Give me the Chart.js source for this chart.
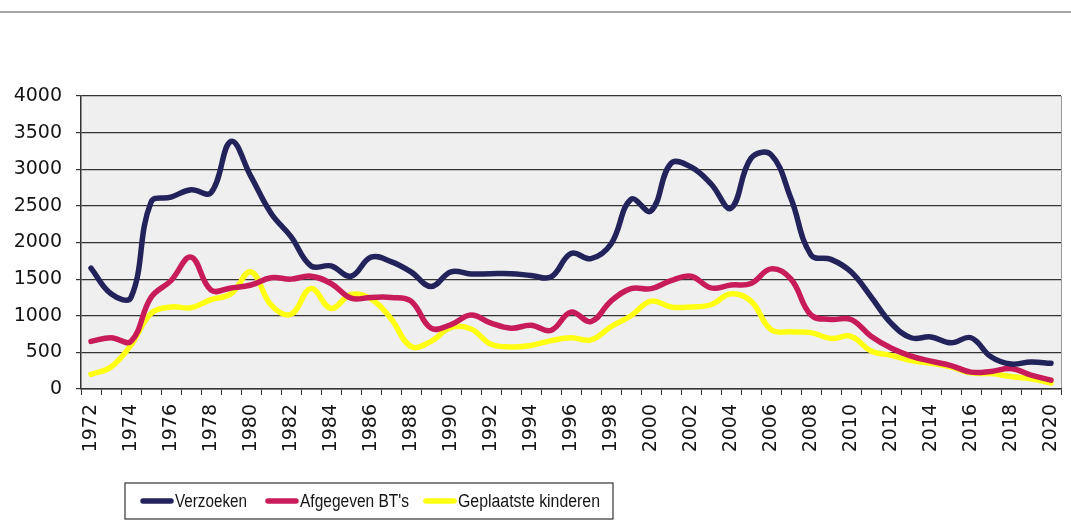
<!DOCTYPE html>
<html>
<head>
<meta charset="utf-8">
<script src="https://cdn.jsdelivr.net/npm/chart.js@4"></script>
<style>
html,body{margin:0;padding:0;background:#fff;}
#wrap{position:relative;width:1071px;height:526px;}
</style>
</head>
<body>
<div id="wrap"><canvas id="c" width="1071" height="526"></canvas></div>
<script>
const years = [];
for (let y = 1972; y <= 2020; y++) years.push(String(y));

const verzoeken = [1650,1300,1250,2550,2620,2720,2680,3380,2900,2400,2080,1680,1680,1540,
  1800,1740,1600,1400,1600,1570,1575,1575,1550,1530,1850,1780,1980,2590,2430,3080,3030,
  2800,2470,3150,3200,2600,1830,1770,1600,1260,900,700,710,630,700,440,340,370,350];
const afgegeven = [650,700,650,1250,1480,1800,1350,1380,1420,1520,1500,1540,1440,1240,
  1250,1250,1200,830,880,1010,900,830,870,800,1050,920,1200,1370,1370,1480,1540,
  1380,1420,1440,1640,1500,1010,950,950,720,560,450,380,320,230,240,280,190,120];
const geplaatst = [200,300,600,1030,1120,1110,1220,1300,1600,1150,1020,1370,1100,1290,
  1230,960,580,650,840,820,610,575,595,660,700,670,850,1000,1200,1120,1120,
  1150,1300,1200,810,780,770,690,720,520,460,390,350,300,220,210,170,140,80];
const seriesNames = ['Verzoeken', "Afgegeven BT's", 'Geplaatste kinderen'];
const yTicks = [0,500,1000,1500,2000,2500,3000,3500,4000];

const colors = ['#23235c', '#c81b5a', '#ffff14'];
const FONT = "'DejaVu Sans', Verdana, sans-serif";

const framePlugin = {
  id: 'frame',
  beforeDraw(chart) {
    const {ctx, chartArea: a} = chart;
    ctx.save();
    ctx.fillStyle = '#efefef';
    ctx.fillRect(a.left, a.top, a.right - a.left, a.bottom - a.top);
    ctx.strokeStyle = '#8a8a8a';
    ctx.lineWidth = 1.5;
    ctx.beginPath();
    ctx.moveTo(0, 12); ctx.lineTo(1071, 12);
    ctx.stroke();
    ctx.strokeStyle = '#9a9a9a';
    ctx.lineWidth = 1;
    ctx.beginPath();
    ctx.moveTo(a.right + 0.5, a.top); ctx.lineTo(a.right + 0.5, a.bottom);
    ctx.stroke();
    ctx.restore();
  },
  afterDraw(chart) {
    const ctx = chart.ctx;
    ctx.save();
    const bx = 125, by = 483, bw = 488, bh = 36;
    ctx.strokeStyle = '#333';
    ctx.lineWidth = 1.2;
    ctx.strokeRect(bx, by, bw, bh);
    ctx.font = "18px 'Liberation Sans Narrow', 'Liberation Sans', Arial, sans-serif";
    ctx.textBaseline = 'middle';
    const items = [{x: 140, w: 72}, {x: 265, w: 109}, {x: 423, w: 142}];
    chart.data.datasets.forEach((ds, i) => {
      const x = items[i].x, y = by + bh / 2;
      ctx.strokeStyle = ds.borderColor;
      ctx.lineWidth = 5.5;
      ctx.lineCap = 'round';
      ctx.beginPath();
      ctx.moveTo(x + 3, y); ctx.lineTo(x + 31, y);
      ctx.stroke();
      ctx.fillStyle = '#151515';
      ctx.fillText(ds.label, x + 35, y + 1, items[i].w);
    });
    ctx.restore();
  }
};

new Chart(document.getElementById('c'), {
  type: 'line',
  data: {
    labels: years,
    datasets: [
      {label: seriesNames[0], data: verzoeken, borderColor: colors[0]},
      {label: seriesNames[1], data: afgegeven, borderColor: colors[1]},
      {label: seriesNames[2], data: geplaatst, borderColor: colors[2]}
    ].map(d => Object.assign(d, {borderWidth: 5.5, tension: 0.4, pointRadius: 0, fill: false, borderCapStyle: 'round', borderJoinStyle: 'round'}))
  },
  options: {
    responsive: false,
    animation: false,
    layout: {padding: {left: 0, right: 10, top: 96, bottom: 70}},
    plugins: {legend: {display: false}, tooltip: {enabled: false}},
    scales: {
      x: {
        type: 'category',
        offset: true,
        grid: {offset: true, drawOnChartArea: false, drawTicks: true, tickLength: 6, color: '#333', lineWidth: 1},
        border: {color: '#333', width: 1.5},
        ticks: {
          autoSkip: false, maxRotation: 90, minRotation: 90, padding: 9,
          color: '#151515', font: {family: FONT, size: 19},
          callback: function(v, i) { return i % 2 === 0 ? this.getLabelForValue(v) : ''; }
        },
        afterFit(scale) { scale.height = 67; scale.paddingRight = 0; scale.paddingLeft = 0; }
      },
      y: {
        min: 0, max: 4000,
        afterBuildTicks(scale) { scale.ticks = yTicks.map(v => ({value: v})); },
        grid: {color: '#333', lineWidth: 1.2, tickLength: 5},
        border: {color: '#333', width: 1.5},
        ticks: {padding: 14, color: '#151515', font: {family: FONT, size: 19}, callback: v => String(v)},
        afterFit(scale) { scale.width = 81; scale.paddingTop = 0; scale.paddingBottom = 0; }
      }
    }
  },
  plugins: [framePlugin]
});
</script>
</body>
</html>
